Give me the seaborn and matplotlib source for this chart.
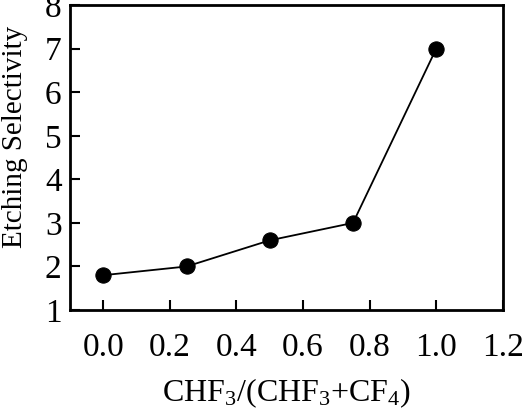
import matplotlib
matplotlib.use("Agg")
import matplotlib.pyplot as plt
import seaborn as sns
import pandas as pd

ratio = [0.0, 0.25, 0.5, 0.75, 1.0]
selectivity = [1.8, 2.0, 2.6, 3.0, 7.0]
xticks = [0.0, 0.2, 0.4, 0.6, 0.8, 1.0, 1.2]
yticks = [1, 2, 3, 4, 5, 6, 7, 8]

sns.set_style("ticks")
plt.rcParams["font.family"] = ["Liberation Serif", "DejaVu Serif"]
plt.rcParams["mathtext.fontset"] = "custom"
plt.rcParams["mathtext.rm"] = "Liberation Serif"
plt.rcParams["mathtext.it"] = "Liberation Serif:italic"
plt.rcParams["text.color"] = "black"
plt.rcParams["axes.labelcolor"] = "black"

df = pd.DataFrame({"ratio": ratio, "sel": selectivity})

fig = plt.figure(figsize=(5.26, 4.19), dpi=100)
ax = fig.add_axes([0.133, 0.26, 0.823, 0.728])
sns.lineplot(data=df, x="ratio", y="sel", ax=ax, color="black", linewidth=1.3,
             marker="o", markersize=11, markeredgecolor="black", markerfacecolor="black")
ax.set_xlim(-0.1, 1.2)
ax.set_ylim(1, 8)
ax.set_xticks(xticks)
ax.set_xticklabels([f"{t:.1f}" for t in xticks])
ax.set_yticks(yticks)
ax.tick_params(direction="in", length=7, width=1.5, labelsize=24, colors="black")
ax.tick_params(axis="x", pad=16)
ax.tick_params(axis="y", pad=6)
for s in ax.spines.values():
    s.set_linewidth(2)
    s.set_color("black")
    s.set_visible(True)
ax.set_xlabel("CHF$_3$/(CHF$_3$+CF$_4$)", fontsize=23, labelpad=10, color="black")
ax.set_ylabel("Etching Selectivity", fontsize=21, color="black")
ax.yaxis.set_label_coords(-0.098, 0.567)
fig.savefig("out.png", dpi=100)
